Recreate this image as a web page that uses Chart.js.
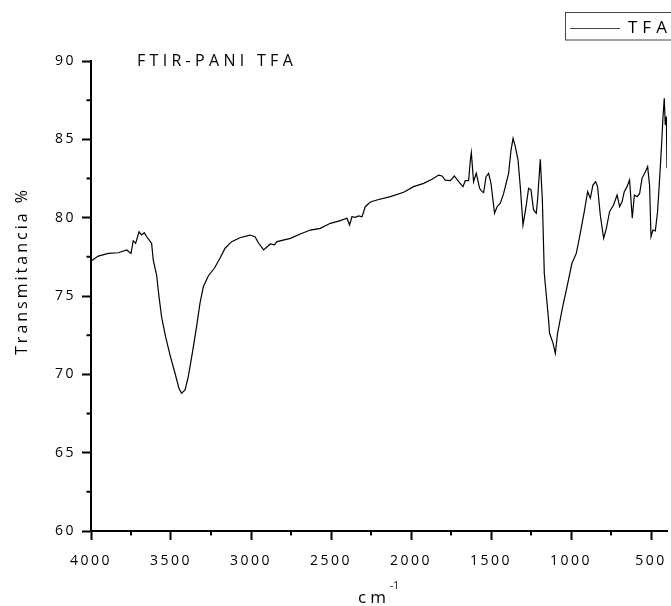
<!DOCTYPE html>
<html>
<head>
<meta charset="utf-8">
<script src="https://cdn.jsdelivr.net/npm/chart.js@4.4.1/dist/chart.umd.min.js"></script>
<style>
  body { margin: 0; background: #fff; }
  #wrap { width: 671px; height: 606px; }
</style>
</head>
<body>
<div id="wrap"><canvas id="ftirChart"></canvas></div>
<script>
// wavenumber (cm-1), from 4000 down to 400
const wavenumbers = [
  4000, 3954, 3892, 3829, 3777, 3750, 3736, 3721, 3700, 3684, 3667, 3652, 3636, 3621,
  3611, 3590, 3575, 3559, 3534, 3506, 3475, 3450, 3434, 3412, 3392, 3367, 3340, 3319,
  3298, 3267, 3229, 3194, 3162, 3121, 3069, 3006, 2975, 2954, 2921, 2879, 2854, 2837,
  2754, 2692, 2629, 2567, 2504, 2442, 2400, 2384, 2369, 2348, 2327, 2306, 2286, 2254,
  2213, 2129, 2046, 1984, 1921, 1869, 1827, 1806, 1786, 1754, 1729, 1702, 1675, 1661,
  1640, 1629, 1623, 1609, 1592, 1571, 1556, 1546, 1531, 1515, 1500, 1478, 1462, 1442,
  1421, 1390, 1375, 1362, 1348, 1331, 1317, 1300, 1281, 1265, 1250, 1234, 1217, 1209,
  1192, 1179, 1167, 1140, 1134, 1112, 1098, 1084, 1056, 1025, 994, 967, 946, 917,
  896, 879, 863, 846, 834, 817, 796, 779, 759, 734, 712, 696, 681, 667,
  650, 634, 617, 604, 587, 571, 556, 535, 521, 509, 500, 488, 473, 459,
  446, 434, 425, 417, 411, 404, 400
];
// transmittance (%)
const transmittance = [
  77.23, 77.55, 77.72, 77.76, 77.94, 77.72, 78.53, 78.36, 79.10, 78.90, 79.04, 78.78, 78.57, 78.36,
  77.30, 76.34, 74.96, 73.68, 72.40, 71.23, 70.07, 69.10, 68.79, 69.00, 69.85, 71.34, 73.04, 74.53,
  75.59, 76.28, 76.77, 77.41, 78.05, 78.47, 78.72, 78.89, 78.78, 78.40, 77.94, 78.32, 78.26, 78.47,
  78.68, 78.96, 79.21, 79.32, 79.64, 79.81, 79.96, 79.53, 80.06, 80.02, 80.11, 80.06, 80.70, 81.00,
  81.13, 81.34, 81.62, 81.98, 82.19, 82.45, 82.72, 82.66, 82.40, 82.36, 82.66, 82.30, 81.98, 82.36,
  82.36, 83.68, 84.15, 82.30, 82.83, 81.87, 81.66, 81.60, 82.62, 82.83, 82.19, 80.28, 80.70, 80.92,
  81.55, 82.83, 84.30, 85.06, 84.53, 83.68, 81.98, 79.53, 80.70, 81.87, 81.77, 80.49, 80.28, 81.13,
  83.72, 81.13, 76.45, 73.47, 72.62, 71.98, 71.34, 72.62, 74.11, 75.59, 77.09, 77.72, 78.79, 80.38,
  81.66, 81.24, 82.08, 82.30, 81.98, 80.17, 78.68, 79.32, 80.38, 80.81, 81.45, 80.70, 81.02, 81.66,
  81.98, 82.40, 79.96, 81.45, 81.34, 81.55, 82.51, 82.93, 83.26, 82.08, 78.79, 79.21, 79.15, 80.38,
  82.51, 84.64, 86.45, 87.62, 85.92, 86.45, 83.15
];

// labelled ticks and the short minor ticks between them
const xTicks = [4000, 3500, 3000, 2500, 2000, 1500, 1000, 500];
const yTicks = [60, 65, 70, 75, 80, 85, 90];
const xMinorTicks = [3750, 3250, 2750, 2250, 1750, 1250, 750];
const yMinorTicks = [62.5, 67.5, 72.5, 77.5, 82.5, 87.5];

const FONT = '"Open Sans", sans-serif';

// titles, legend box and minor ticks
const decorPlugin = {
  id: 'decor',
  beforeDraw(chart) {
    chart.ctx.letterSpacing = '2.5px';
  },
  afterDraw(chart) {
    const { ctx, chartArea: a, scales: { x, y } } = chart;
    ctx.save();

    ctx.strokeStyle = '#000';
    ctx.lineWidth = 2;
    ctx.beginPath();
    xMinorTicks.forEach(v => {
      const px = x.getPixelForValue(v);
      ctx.moveTo(px, a.bottom);
      ctx.lineTo(px, a.bottom + 4.5);
    });
    yMinorTicks.forEach(v => {
      const py = y.getPixelForValue(v);
      ctx.moveTo(a.left - 4.5, py);
      ctx.lineTo(a.left, py);
    });
    ctx.stroke();

    ctx.fillStyle = '#000';
    ctx.textBaseline = 'middle';
    ctx.textAlign = 'left';
    ctx.letterSpacing = '4.3px';
    ctx.font = '16px ' + FONT;
    ctx.fillText('FTIR-PANI TFA', 137, 61);

    // legend
    ctx.strokeStyle = '#444';
    ctx.lineWidth = 1;
    ctx.strokeRect(565.5, 12.5, 120, 27.5);
    ctx.beginPath();
    ctx.moveTo(570, 28.5);
    ctx.lineTo(620, 28.5);
    ctx.stroke();
    ctx.letterSpacing = '5px';
    ctx.font = '17px ' + FONT;
    ctx.fillText('TFA', 628, 28);

    // y title
    ctx.save();
    ctx.translate(27, 271);
    ctx.rotate(-Math.PI / 2);
    ctx.textAlign = 'center';
    ctx.textBaseline = 'alphabetic';
    ctx.letterSpacing = '3px';
    ctx.font = '16px ' + FONT;
    ctx.fillText('Transmitancia %', 0, 0);
    ctx.restore();

    // x title with superscript
    ctx.textAlign = 'left';
    ctx.textBaseline = 'alphabetic';
    ctx.letterSpacing = '4px';
    ctx.font = '17px ' + FONT;
    ctx.fillText('cm', 358, 603);
    ctx.letterSpacing = '0px';
    ctx.font = '10px ' + FONT;
    ctx.fillText('-1', 390, 589);

    ctx.restore();
  }
};

const ctx = document.getElementById('ftirChart').getContext('2d');
new Chart(ctx, {
  type: 'line',
  data: {
    datasets: [{
      label: 'TFA',
      data: wavenumbers.map((w, i) => ({ x: w, y: transmittance[i] })),
      borderColor: '#000',
      borderWidth: 1.2,
      pointRadius: 0,
      tension: 0,
      fill: false
    }]
  },
  options: {
    responsive: true,
    maintainAspectRatio: false,
    animation: false,
    layout: { padding: { top: 61, right: 4, left: 0, bottom: 0 } },
    plugins: {
      legend: { display: false },
      tooltip: { enabled: false }
    },
    scales: {
      x: {
        type: 'linear',
        reverse: true,
        min: 400,
        max: 4000,
        afterFit: s => { s.height = 75; s.paddingLeft = 0; s.paddingRight = 0; },
        afterBuildTicks: s => { s.ticks = xTicks.map(v => ({ value: v })); },
        border: { color: '#000', width: 2 },
        grid: { drawOnChartArea: false, tickLength: 9, tickWidth: 2, tickColor: '#000' },
        ticks: {
          maxRotation: 0,
          autoSkip: false,
          padding: 13,
          color: '#000',
          font: { family: FONT, size: 14 },
          callback: v => String(v)
        }
      },
      y: {
        min: 60,
        max: 90,
        afterFit: s => { s.width = 91; },
        afterBuildTicks: s => { s.ticks = yTicks.map(v => ({ value: v })); },
        border: { color: '#000', width: 2 },
        grid: { drawOnChartArea: false, tickLength: 9, tickWidth: 2, tickColor: '#000' },
        ticks: {
          padding: 6,
          color: '#000',
          font: { family: FONT, size: 14 },
          callback: v => String(v)
        }
      }
    }
  },
  plugins: [decorPlugin]
});
</script>
</body>
</html>
